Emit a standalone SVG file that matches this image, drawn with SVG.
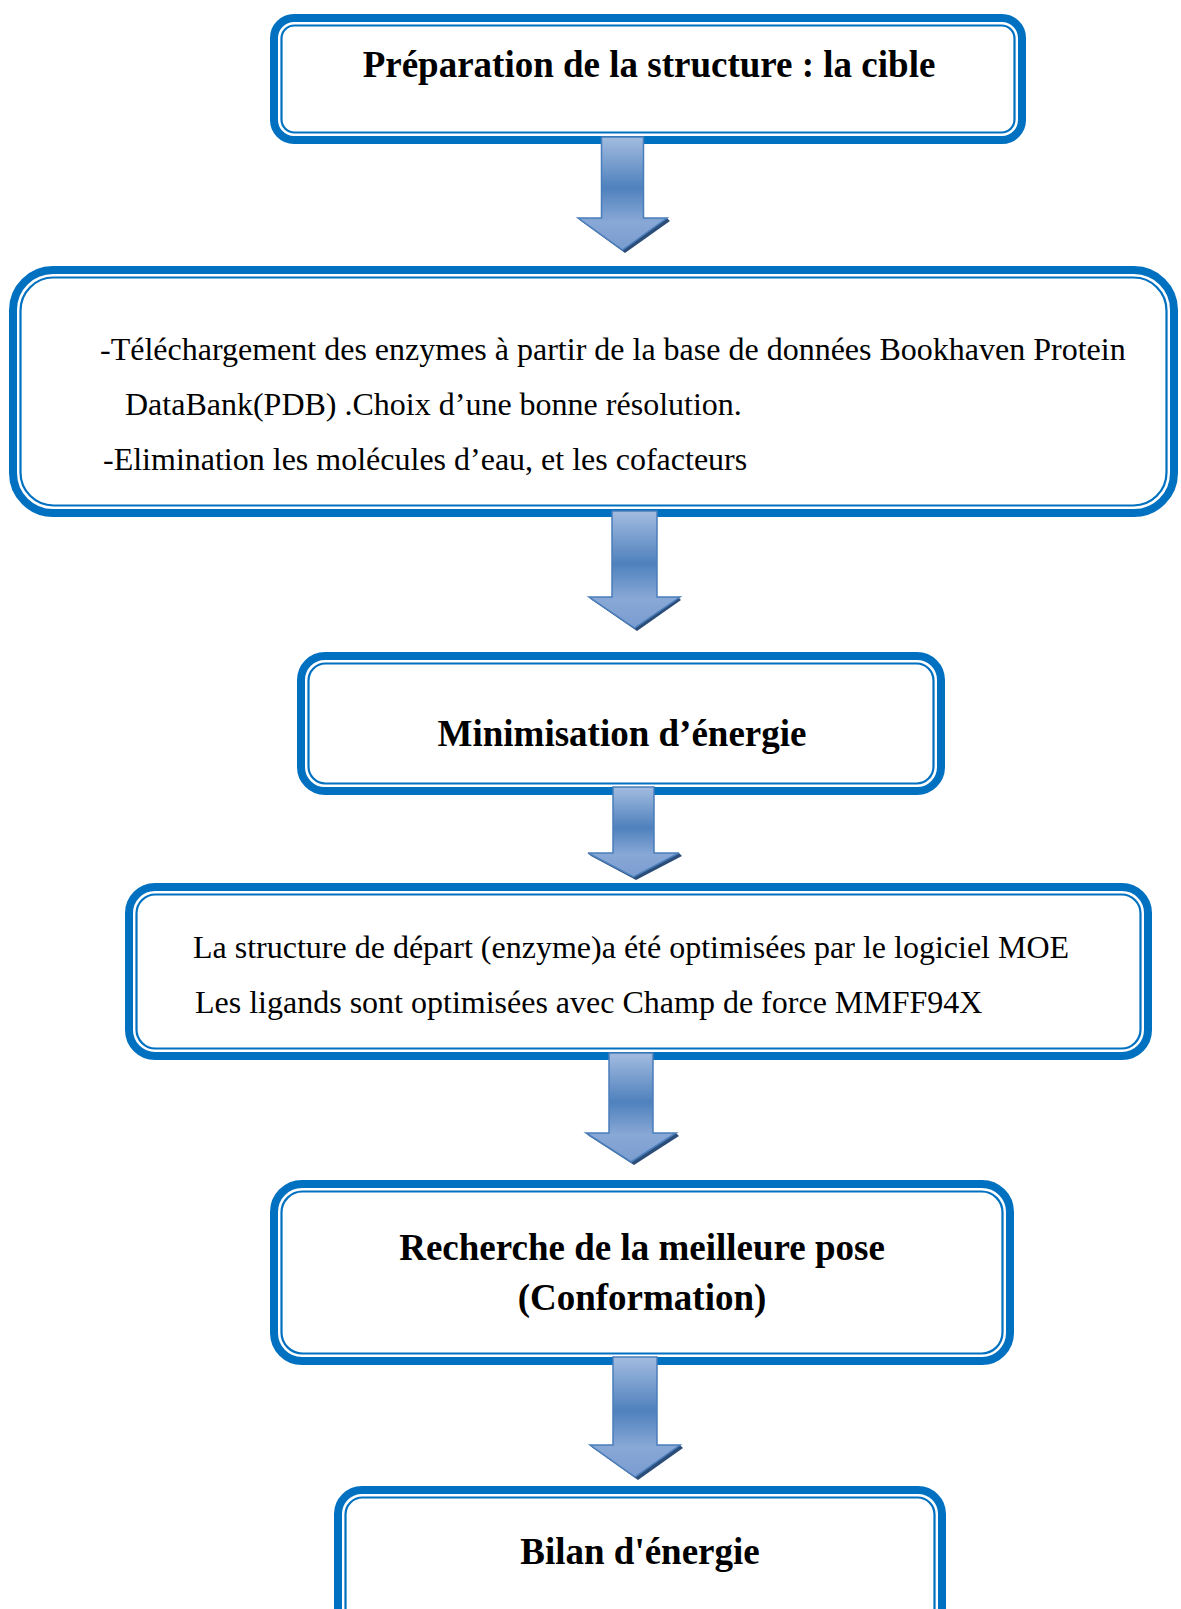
<svg xmlns="http://www.w3.org/2000/svg" width="1181" height="1609" viewBox="0 0 1181 1609">
<style>
.outer{fill:#fff;stroke:#0070C0;stroke-width:8}
.inner{fill:none;stroke:#0070C0;stroke-width:2.2}
.tb{font-family:"Liberation Serif","Times New Roman",serif;font-weight:bold;font-size:37px;fill:#000}
.tr{font-family:"Liberation Serif","Times New Roman",serif;font-size:32px;fill:#000}
.arr{fill:url(#ag);stroke:#4A7EBB;stroke-width:1.5}
.sh{fill:#2B4D78}
</style>
<defs>
<linearGradient id="ag" x1="0" y1="0" x2="0" y2="1">
<stop offset="0" stop-color="#A3BCE0"/>
<stop offset="0.45" stop-color="#4F81BD"/>
<stop offset="0.75" stop-color="#88A8D6"/>
<stop offset="1" stop-color="#7A9CCF"/>
</linearGradient>
</defs>
<g id="node1">
<rect class="outer" x="274" y="18" width="748" height="122" rx="20"/>
<rect class="inner" x="281.5" y="25.5" width="733" height="107" rx="13"/>
<text class="tb" x="649" y="77" text-anchor="middle">Préparation de la structure : la cible</text>
</g>
<g id="node2">
<rect class="outer" x="13" y="270" width="1161" height="243" rx="40"/>
<rect class="inner" x="20.5" y="277.5" width="1146" height="228" rx="33"/>
<text class="tr" x="100" y="360">-Téléchargement des enzymes à partir de la base de données Bookhaven Protein</text>
<text class="tr" x="125" y="415">DataBank(PDB) .Choix d’une bonne résolution.</text>
<text class="tr" x="103" y="470">-Elimination les molécules d’eau, et les cofacteurs</text>
</g>
<g id="node3">
<rect class="outer" x="301" y="656" width="640" height="135" rx="24"/>
<rect class="inner" x="308.5" y="663.5" width="625" height="120" rx="17"/>
<text class="tb" x="622" y="746" text-anchor="middle">Minimisation d’énergie</text>
</g>
<g id="node4">
<rect class="outer" x="129" y="887" width="1019" height="169" rx="26"/>
<rect class="inner" x="136.5" y="894.5" width="1004" height="154" rx="19"/>
<text class="tr" x="193" y="958">La structure de départ (enzyme)a été optimisées par le logiciel MOE</text>
<text class="tr" x="195" y="1013">Les ligands sont optimisées avec Champ de force MMFF94X</text>
</g>
<g id="node5">
<rect class="outer" x="274" y="1184" width="736" height="177" rx="28"/>
<rect class="inner" x="281.5" y="1191.5" width="721" height="162" rx="21"/>
<text class="tb" x="642" y="1260" text-anchor="middle">Recherche de la meilleure pose</text>
<text class="tb" x="642" y="1310" text-anchor="middle">(Conformation)</text>
</g>
<g id="node6">
<rect class="outer" x="338" y="1490" width="604" height="150" rx="24"/>
<rect class="inner" x="345.5" y="1497.5" width="589" height="135" rx="17"/>
<text class="tb" x="640" y="1564" text-anchor="middle">Bilan d'énergie</text>
</g>
<g id="connectors">
<polygon class="sh" points="581,221 625,253 670,221 667,218 622,250 578,218"/>
<polygon class="arr" points="601.5,137 643.5,137 643.5,218 667,218 622.5,250 578,218 601.5,218"/>
<polygon class="sh" points="592,600 637,631 681,600 678,597 634.5,628 589,597"/>
<polygon class="arr" points="612,511 657,511 657,597 680,597 634.5,628 589,597 612,597"/>
<polygon class="sh" points="591,856 636,880 682,856 679,853 633.5,877 588,853"/>
<polygon class="arr" points="613,787 654,787 654,853 679,853 633.5,877 588,853 613,853"/>
<polygon class="sh" points="589,1136 634,1165 679,1136 676,1133 631,1162 586,1133"/>
<polygon class="arr" points="609,1053 653,1053 653,1133 676,1133 631,1162 586,1133 609,1133"/>
<polygon class="sh" points="593,1448 638,1480 683,1448 680,1445 635,1477 590,1445"/>
<polygon class="arr" points="613,1357 657,1357 657,1445 680,1445 635,1477 590,1445 613,1445"/>
</g>
</svg>
